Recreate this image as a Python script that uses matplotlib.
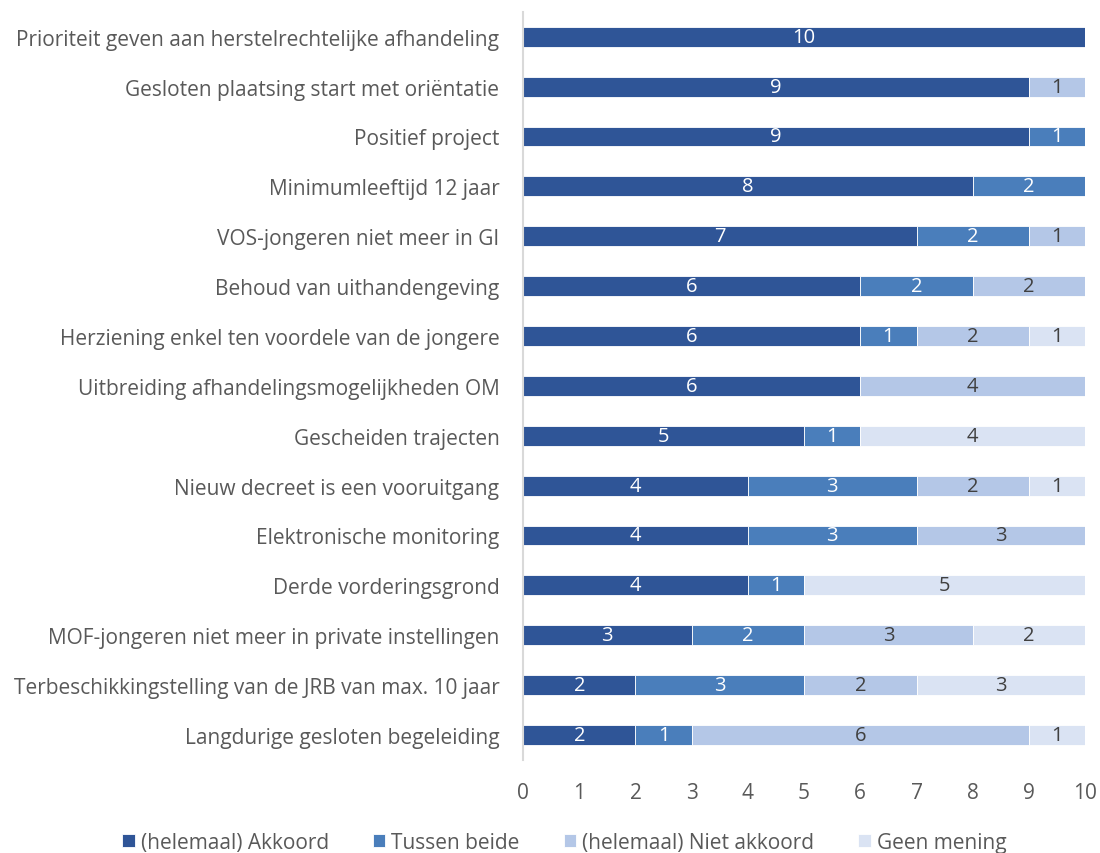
import matplotlib.pyplot as plt
import numpy as np

plt.rcParams['font.family'] = ['Open Sans', 'DejaVu Sans']

# statements, top to bottom
statements = [
    "Prioriteit geven aan herstelrechtelijke afhandeling",
    "Gesloten plaatsing start met oriëntatie",
    "Positief project",
    "Minimumleeftijd 12 jaar",
    "VOS-jongeren niet meer in GI",
    "Behoud van uithandengeving",
    "Herziening enkel ten voordele van de jongere",
    "Uitbreiding afhandelingsmogelijkheden OM",
    "Gescheiden trajecten",
    "Nieuw decreet is een vooruitgang",
    "Elektronische monitoring",
    "Derde vorderingsgrond",
    "MOF-jongeren niet meer in private instellingen",
    "Terbeschikkingstelling van de JRB van max. 10 jaar",
    "Langdurige gesloten begeleiding",
]
akkoord = [10, 9, 9, 8, 7, 6, 6, 6, 5, 4, 4, 4, 3, 2, 2]
tussen = [0, 0, 1, 2, 2, 2, 1, 0, 1, 3, 3, 1, 2, 3, 1]
niet_akkoord = [0, 1, 0, 0, 1, 2, 2, 4, 0, 2, 3, 0, 3, 2, 6]
geen_mening = [0, 0, 0, 0, 0, 0, 1, 0, 4, 1, 0, 5, 2, 3, 1]

series_names = ["(helemaal) Akkoord", "Tussen beide", "(helemaal) Niet akkoord", "Geen mening"]
colors = ["#2f5597", "#4a7ebb", "#b4c7e7", "#dae3f3"]
label_colors = ["white", "white", "#404040", "#404040"]

fig = plt.figure(figsize=(11, 8.54), dpi=100)
ax = fig.add_axes([0.4755, 0.109, 0.511, 0.876])

y = np.arange(len(statements))
left = np.zeros(len(statements))
for vals, name, col, lcol in zip([akkoord, tussen, niet_akkoord, geen_mening],
                                 series_names, colors, label_colors):
    vals = np.array(vals, dtype=float)
    bars = ax.barh(y, vals, left=left, height=0.4, color=col, label=name,
                   edgecolor="white", linewidth=0.6)
    for b, v in zip(bars, vals):
        if v > 0:
            ax.text(b.get_x() + b.get_width() / 2, b.get_y() + b.get_height() / 2,
                    f"{int(v)}", ha="center", va="center", color=lcol, fontsize=14.5)
    left += vals

ax.set_ylim(len(statements) - 0.5, -0.5)
ax.set_xlim(0, 10)
ax.set_yticks(y)
ax.set_yticklabels(statements, fontsize=15, color="#595959")
ax.set_xticks(range(0, 11))
ax.tick_params(axis="x", labelsize=15, labelcolor="#595959", length=0, pad=16)
ax.tick_params(axis="y", length=0, pad=17)
for s in ["top", "right", "bottom"]:
    ax.spines[s].set_visible(False)
ax.spines["left"].set_color("#d9d9d9")
ax.spines["left"].set_linewidth(1.5)

handles, labels = ax.get_legend_handles_labels()
fig.legend(handles, labels, loc="lower center", bbox_to_anchor=(0.513, -0.022), ncol=4,
           frameon=False, fontsize=15, labelcolor="#595959", handlelength=0.6,
           handleheight=0.6, handletextpad=0.3, columnspacing=2.1)

fig.savefig("out.png", dpi=100)
